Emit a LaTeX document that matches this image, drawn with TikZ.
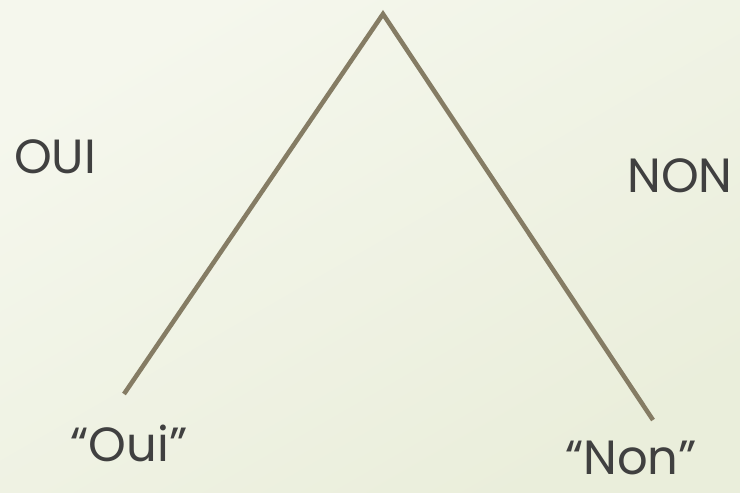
\documentclass[tikz,border=0pt]{standalone}
\usepackage{fontspec}
\setmainfont{Poppins}
\usepackage{tikz}
\usetikzlibrary{positioning, calc}
\definecolor{treeLine}{RGB}{133,124,100}
\definecolor{treeText}{RGB}{64,64,64}
\definecolor{bgLight}{RGB}{245,247,237}
\definecolor{bgDark}{RGB}{234,238,219}

\begin{document}
\begin{tikzpicture}[x=0.75pt, y=-0.75pt,
    branch/.style={treeLine, line width=3.4pt},
    label/.style={treeText, font=\fontsize{36}{40}\selectfont, inner sep=0pt, text depth=0pt, anchor=base}]
        \shade[top color=bgLight, bottom color=bgDark, shading angle=30] (0,0) rectangle (740,493);
        \useasboundingbox (0,0) rectangle (740,493);
        \coordinate (top) at (383,14);
        \coordinate (oui) at (124,394);
        \coordinate (non) at (653,420);
        \draw[branch] (oui) -- (top) -- (non);
        \node[label] (ouiL) at (55,173) {OUI};
        \node[label] (nonL) at (680,192) {NON};
        \node[label] (ouiQ) at (129,461) {“Oui”};
        \node[label] (nonQ) at (631,474) {“Non”};
      \end{tikzpicture}
\end{document}
